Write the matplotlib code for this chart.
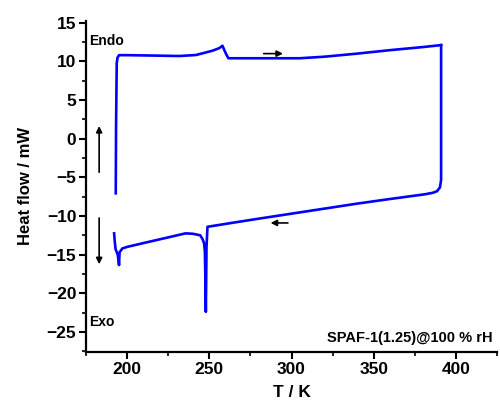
import matplotlib
matplotlib.use("Agg")
import matplotlib.pyplot as plt
from matplotlib.ticker import MultipleLocator

plt.rcParams['font.family'] = ['Liberation Sans', 'DejaVu Sans']
plt.rcParams['font.weight'] = 'bold'

# Heating branch (upper curve), K and mW
T_heat = [193.1, 193.3, 193.7, 194.2, 195.1, 200.0, 215.0, 231.8, 241.9, 252.0,
          256.0, 258.0, 260.0, 261.6, 280.0, 305.0, 320.0, 340.0, 360.0, 380.0, 391.0]
HF_heat = [-7.07, 2.0, 9.8, 10.5, 10.8, 10.8, 10.75, 10.69, 10.82, 11.38,
           11.7, 12.02, 11.04, 10.4, 10.4, 10.4, 10.6, 11.0, 11.45, 11.85, 12.1]

# Cooling branch (lower curve), from hot to cold
T_cool = [391.0, 391.0, 390.3, 388.5, 386.0, 381.0, 360.0, 340.0, 320.0, 300.0,
          280.0, 265.0, 248.9, 248.3, 247.9, 247.6, 247.3, 246.8, 245.9,
          244.5, 240.0, 235.5, 221.3, 210.0, 200.0, 197.1, 195.4, 195.1, 194.3,
          193.0, 192.5, 192.1]
HF_cool = [12.1, -5.35, -6.3, -6.8, -7.0, -7.2, -7.8, -8.4, -9.05, -9.7,
           -10.35, -10.85, -11.4, -14.0, -22.4, -18.0, -14.5, -13.5, -13.0,
           -12.5, -12.3, -12.25, -12.95, -13.5, -14.0, -14.2, -14.7, -16.35, -15.0,
           -14.3, -13.3, -12.25]

fig = plt.figure(figsize=(5.0, 4.07), dpi=100)
ax = fig.add_axes([0.172, 0.135, 0.822, 0.814])

blue = '#0000ff'
ax.plot(T_heat, HF_heat, color=blue, lw=1.9, solid_joinstyle='round')
ax.plot(T_cool, HF_cool, color=blue, lw=1.9, solid_joinstyle='round')

ax.set_xlim(175, 425)
ax.set_ylim(-27.6, 15.25)
ax.xaxis.set_major_locator(MultipleLocator(50))
ax.xaxis.set_minor_locator(MultipleLocator(25))
ax.yaxis.set_major_locator(MultipleLocator(5))
ax.yaxis.set_minor_locator(MultipleLocator(2.5))

for s in ['top', 'right']:
    ax.spines[s].set_visible(False)
for s in ['left', 'bottom']:
    ax.spines[s].set_linewidth(1.6)

ax.tick_params(which='major', direction='out', length=5, width=1.5, labelsize=12.5, pad=2)
ax.tick_params(which='minor', direction='out', length=3, width=1.2)
for lab in ax.get_xticklabels() + ax.get_yticklabels():
    lab.set_fontweight('bold')

ax.set_xlabel('T / K', fontsize=12.5, fontweight='bold', labelpad=6)
ax.set_ylabel('Heat flow / mW', fontsize=12, fontweight='bold', labelpad=10)

# direction arrows
ap = dict(arrowstyle='-|>', color='black', lw=1.2, mutation_scale=9)
ax.annotate('', xy=(296.5, 11.0), xytext=(281.4, 11.0), arrowprops=ap)
ax.annotate('', xy=(285.6, -10.9), xytext=(299.5, -10.9), arrowprops=ap)
ax.annotate('', xy=(183.0, 2.0), xytext=(183.0, -4.7), arrowprops=ap)
ax.annotate('', xy=(183.0, -16.6), xytext=(183.0, -9.9), arrowprops=ap)

ax.text(177, 12.6, 'Endo', fontsize=10, fontweight='bold', ha='left', va='center')
ax.text(177, -23.7, 'Exo', fontsize=10, fontweight='bold', ha='left', va='center')
ax.text(422.5, -25.8, 'SPAF-1(1.25)@100 % rH', fontsize=10.5, fontweight='bold',
        ha='right', va='center')

fig.savefig('out.png', dpi=100)
